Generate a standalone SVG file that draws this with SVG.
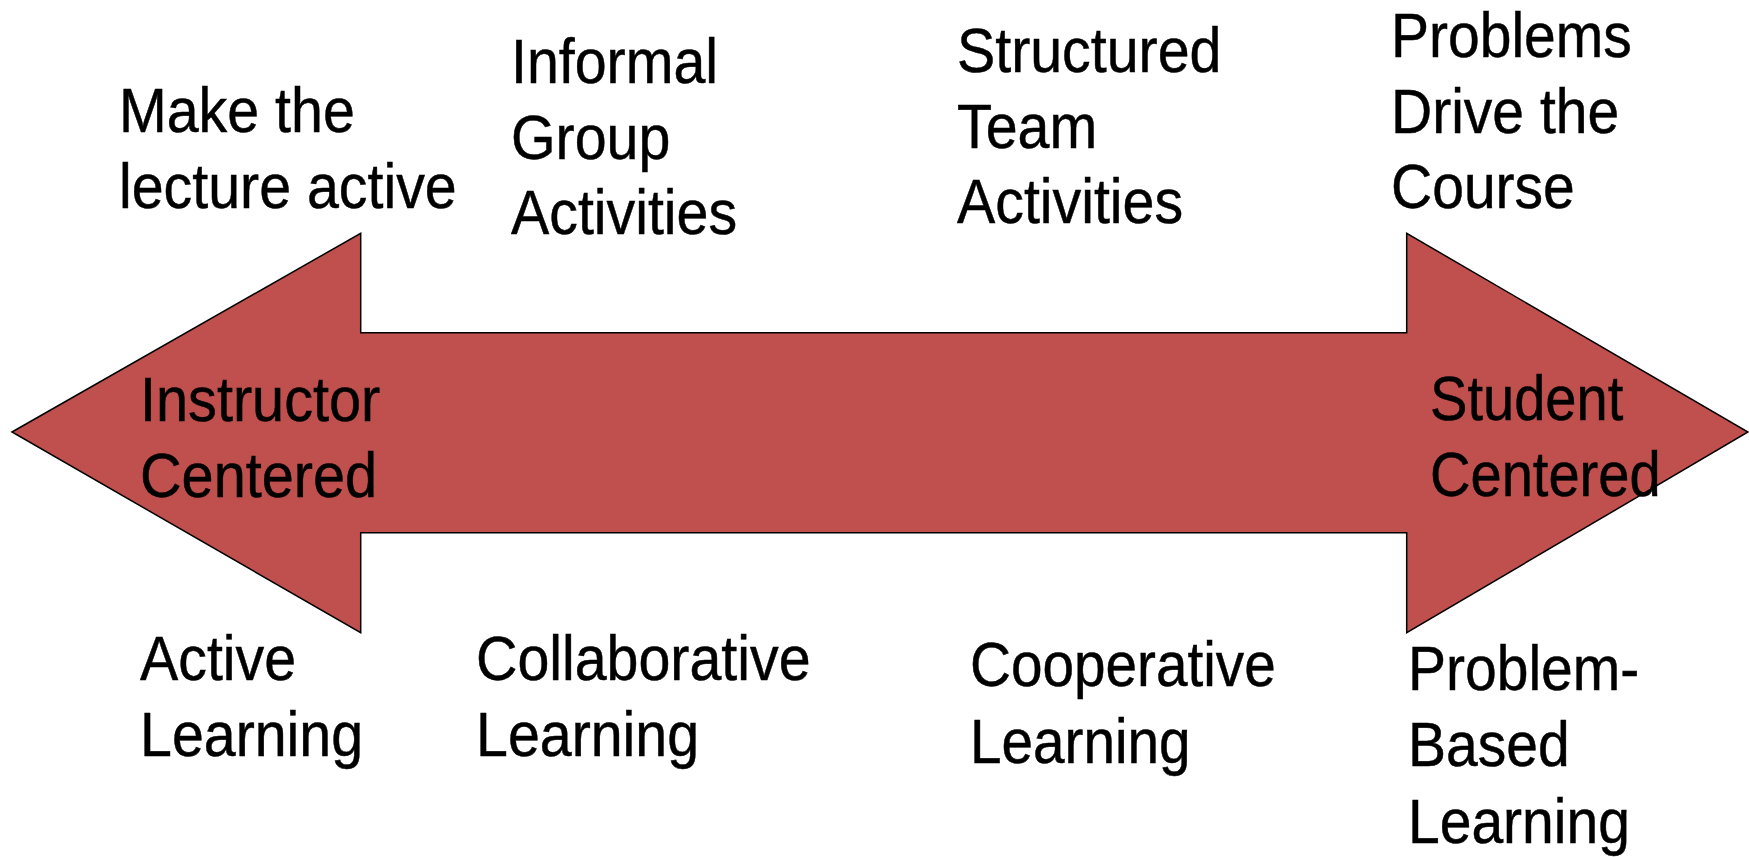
<svg xmlns="http://www.w3.org/2000/svg" width="1749" height="857" viewBox="0 0 1749 857">
<style>
text{font-family:"Liberation Sans",Arial,sans-serif;font-size:63px;fill:#000;stroke:#000;stroke-width:0.5;}
.arrow{fill:#C0504D;stroke:#000;stroke-width:1.5;stroke-linejoin:miter;}
</style>
<rect width="1749" height="857" fill="#fff"/>
<g id="arrow">
<polygon class="arrow" points="12,432 360.7,233.3 360.7,332.7 1406.7,332.7 1406.7,233.3 1748,432 1406.7,632.7 1406.7,532.7 360.7,532.7 360.7,632.7"/>
</g>
<g id="make-lecture-active" transform="translate(119,0) scale(0.91 1)">
<text x="0" y="132">Make the</text>
<text x="0" y="208">lecture active</text>
</g>
<g id="informal-group" transform="translate(511,0) scale(0.91 1)">
<text x="0" y="83">Informal</text>
<text x="0" y="159">Group</text>
<text x="0" y="234">Activities</text>
</g>
<g id="structured-team" transform="translate(957,0) scale(0.91 1)">
<text x="0" y="72">Structured</text>
<text x="0" y="148">Team</text>
<text x="0" y="223">Activities</text>
</g>
<g id="problems-drive" transform="translate(1391,0) scale(0.905 1)">
<text x="0" y="57">Problems</text>
<text x="0" y="133">Drive the</text>
<text x="0" y="208">Course</text>
</g>
<g id="instructor-centered" transform="translate(140,0) scale(0.915 1)">
<text x="0" y="421">Instructor</text>
<text x="0" y="497">Centered</text>
</g>
<g id="student-centered" transform="translate(1430,0) scale(0.89 1)">
<text x="0" y="420">Student</text>
<text x="0" y="496">Centered</text>
</g>
<g id="active-learning" transform="translate(140,0) scale(0.91 1)">
<text x="0" y="680">Active</text>
<text x="0" y="756">Learning</text>
</g>
<g id="collaborative-learning" transform="translate(476,0) scale(0.91 1)">
<text x="0" y="680">Collaborative</text>
<text x="0" y="756">Learning</text>
</g>
<g id="cooperative-learning" transform="translate(970,0) scale(0.9 1)">
<text x="0" y="686">Cooperative</text>
<text x="0" y="763">Learning</text>
</g>
<g id="problem-based-learning" transform="translate(1408,0) scale(0.905 1)">
<text x="0" y="690">Problem-</text>
<text x="0" y="766">Based</text>
<text x="0" y="843">Learning</text>
</g>
</svg>
